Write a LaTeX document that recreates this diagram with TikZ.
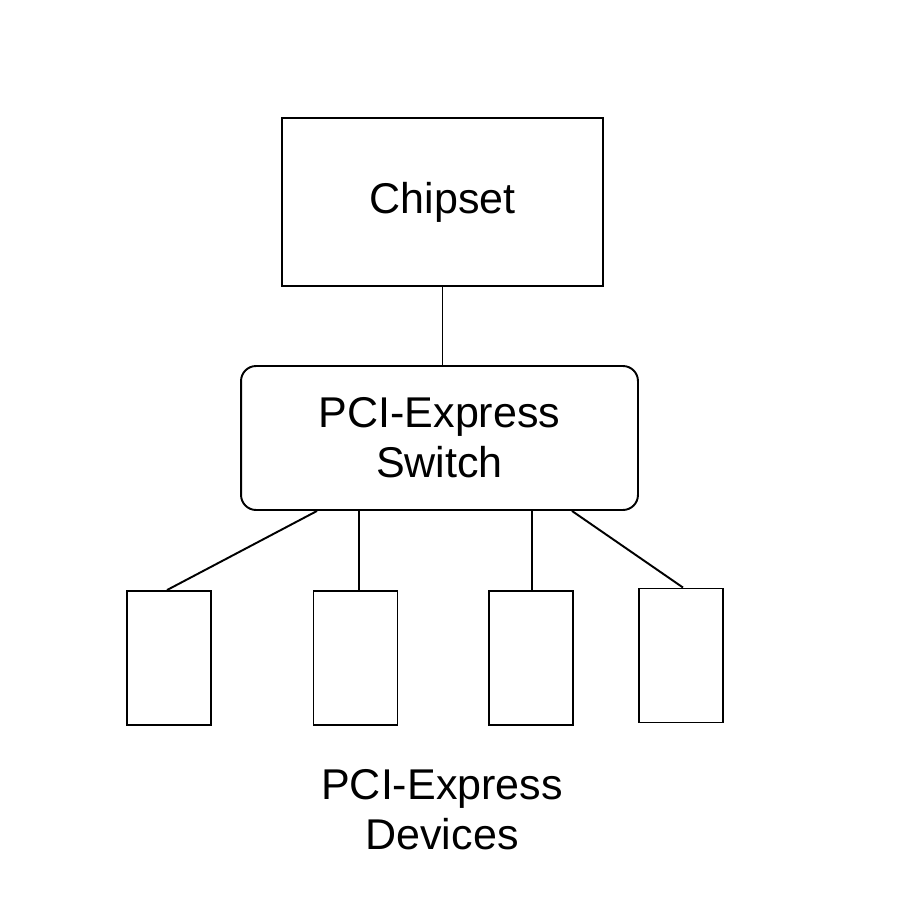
\documentclass[tikz,border=0pt]{standalone}
\usepackage{fontspec}
\setmainfont{Liberation Sans}
\usepackage{tikz}
\usetikzlibrary{positioning, calc}
\tikzset{
  blk/.style={rectangle, draw=black, line width=1.1pt, fill=white,
    font=\fontsize{24.5}{28.5}\selectfont, align=center, inner sep=0pt},
  chip/.style={blk, minimum width=6.42cm, minimum height=3.36cm},
  swbox/.style={blk, rounded corners=0.3cm, minimum width=7.94cm, minimum height=2.88cm},
  devbox/.style={blk, minimum width=1.68cm, minimum height=2.68cm},
  lnk/.style={draw=black, line width=1.1pt},
  lbl/.style={font=\fontsize{24.5}{28.5}\selectfont, align=center, inner sep=0pt},
}
\begin{document}
\begin{tikzpicture}[x=0.02cm, y=-0.02cm]
  \useasboundingbox (0,0) rectangle (904,909);
  % top of the tree
  \node[chip] (chipset) at (442.5,202) {Chipset};
  \node[swbox] (switch) at (439.5,438) {PCI-Express\\Switch};
  % devices
  \node[devbox] (dev1) at (169,658) {};
  \node[devbox] (dev2) at (355.5,658) {};
  \node[devbox] (dev3) at (531,658) {};
  \node[devbox] (dev4) at (681,655.5) {};
  \node[lbl] (devlbl) at (442,810) {PCI-Express\\Devices};
  % links
  \draw[lnk] (chipset.south) -- (chipset.south |- switch.north);
  \draw[lnk] ([xshift=-2.45cm]switch.south) -- ([xshift=-0.04cm]dev1.north);
  \draw[lnk] ([xshift=0.07cm]dev2.north) -- ([xshift=0.07cm]dev2.north |- switch.south);
  \draw[lnk] ([xshift=0.02cm]dev3.north) -- ([xshift=0.02cm]dev3.north |- switch.south);
  \draw[lnk] ([xshift=2.65cm]switch.south) -- ([xshift=0.04cm]dev4.north);
\end{tikzpicture}
\end{document}
